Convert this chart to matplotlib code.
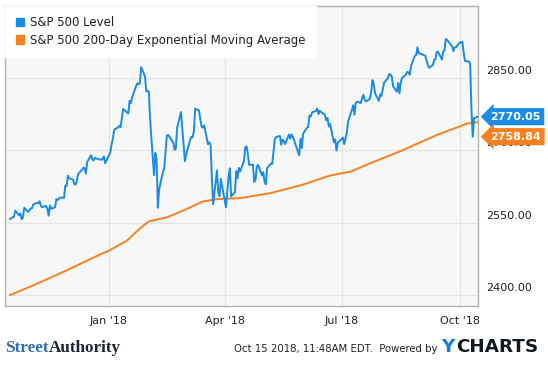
import matplotlib
matplotlib.use("Agg")
import matplotlib.pyplot as plt
from matplotlib.patches import Patch
import pandas as pd

# trading days per month (S&P 500 closes), Oct 2017 - Oct 2018
month_days = [
    ("2017-10", [16, 17, 18, 19, 20, 23, 24, 25, 26, 27, 30, 31]),
    ("2017-11", [1, 2, 3, 6, 7, 8, 9, 10, 13, 14, 15, 16, 17, 20, 21, 22, 24, 27, 28, 29, 30]),
    ("2017-12", [1, 4, 5, 6, 7, 8, 11, 12, 13, 14, 15, 18, 19, 20, 21, 22, 26, 27, 28, 29]),
    ("2018-01", [2, 3, 4, 5, 8, 9, 10, 11, 12, 16, 17, 18, 19, 22, 23, 24, 25, 26, 29, 30, 31]),
    ("2018-02", [1, 2, 5, 6, 7, 8, 9, 12, 13, 14, 15, 16, 20, 21, 22, 23, 26, 27, 28]),
    ("2018-03", [1, 2, 5, 6, 7, 8, 9, 12, 13, 14, 15, 16, 19, 20, 21, 22, 23, 26, 27, 28, 29]),
    ("2018-04", [2, 3, 4, 5, 6, 9, 10, 11, 12, 13, 16, 17, 18, 19, 20, 23, 24, 25, 26, 27, 30]),
    ("2018-05", [1, 2, 3, 4, 7, 8, 9, 10, 11, 14, 15, 16, 17, 18, 21, 22, 23, 24, 25, 29, 30, 31]),
    ("2018-06", [1, 4, 5, 6, 7, 8, 11, 12, 13, 14, 15, 18, 19, 20, 21, 22, 25, 26, 27, 28, 29]),
    ("2018-07", [2, 3, 5, 6, 9, 10, 11, 12, 13, 16, 17, 18, 19, 20, 23, 24, 25, 26, 27, 30, 31]),
    ("2018-08", [1, 2, 3, 6, 7, 8, 9, 10, 13, 14, 15, 16, 17, 20, 21, 22, 23, 24, 27, 28, 29, 30, 31]),
    ("2018-09", [4, 5, 6, 7, 10, 11, 12, 13, 14, 17, 18, 19, 20, 21, 24, 25, 26, 27, 28]),
    ("2018-10", [1, 2, 3, 4, 5, 8, 9, 10, 11, 12, 15]),
]

sp500_level = [
    2557.6, 2559.4, 2561.3, 2562.1, 2575.2, 2565.0, 2569.1, 2557.2, 2560.4, 2581.1, 2572.8, 2575.3,
    2579.4, 2579.9, 2587.8, 2591.1, 2590.6, 2594.4, 2584.6, 2582.3, 2584.8, 2578.9, 2564.6, 2585.6,
    2578.9, 2582.1, 2599.0, 2597.1, 2602.4, 2601.4, 2627.0, 2626.1, 2647.6,
    2642.2, 2639.4, 2629.6, 2629.3, 2637.0, 2651.5, 2660.0, 2664.1, 2662.9, 2652.0, 2675.8, 2690.2,
    2681.5, 2679.2, 2684.6, 2683.3, 2680.5, 2682.6, 2687.5, 2673.6,
    2695.8, 2713.1, 2724.0, 2743.2, 2747.7, 2751.3, 2748.2, 2767.6, 2786.2, 2776.4, 2802.6, 2798.0,
    2810.3, 2833.0, 2839.1, 2837.5, 2839.3, 2872.9, 2853.5, 2822.4, 2823.8,
    2822.0, 2762.1, 2648.9, 2695.1, 2681.7, 2581.0, 2619.6, 2656.0, 2662.9, 2698.6, 2731.2, 2732.2,
    2716.3, 2701.3, 2704.0, 2747.3, 2779.6, 2744.3, 2713.8,
    2677.7, 2691.3, 2720.9, 2728.1, 2726.8, 2739.0, 2786.6, 2783.0, 2765.3, 2749.5, 2747.3, 2752.0,
    2712.9, 2716.9, 2711.9, 2643.7, 2588.3, 2658.6, 2612.6, 2605.0, 2640.9,
    2581.9, 2614.5, 2644.7, 2662.8, 2604.5, 2613.2, 2656.9, 2642.2, 2664.0, 2656.3, 2677.8, 2706.4,
    2708.6, 2693.1, 2670.1, 2670.3, 2634.6, 2639.4, 2666.9, 2669.9, 2648.1,
    2654.8, 2635.7, 2629.7, 2663.4, 2672.6, 2671.9, 2697.8, 2723.1, 2727.7, 2730.1, 2711.5, 2722.5,
    2720.1, 2713.0, 2733.0, 2724.4, 2733.3, 2727.8, 2721.3, 2689.9, 2724.0, 2705.3,
    2734.6, 2746.9, 2748.8, 2772.4, 2770.4, 2779.0, 2782.0, 2786.9, 2775.6, 2782.5, 2779.7, 2773.8,
    2762.6, 2767.3, 2749.8, 2754.9, 2717.1, 2723.1, 2699.6, 2716.3, 2718.4,
    2726.7, 2713.2, 2736.6, 2759.8, 2784.2, 2793.8, 2774.0, 2798.3, 2801.3, 2798.4, 2809.6, 2815.6,
    2804.5, 2801.8, 2807.0, 2820.4, 2846.1, 2837.4, 2818.8, 2802.6, 2816.3,
    2813.4, 2827.2, 2840.4, 2850.4, 2858.5, 2857.7, 2853.6, 2833.3, 2821.9, 2840.0, 2818.4, 2840.7,
    2850.1, 2857.1, 2863.0, 2861.8, 2857.0, 2874.7, 2896.7, 2897.5, 2914.0, 2901.1, 2901.5,
    2896.7, 2888.6, 2878.1, 2871.7, 2877.1, 2887.9, 2888.9, 2904.2, 2905.0, 2888.8, 2904.3, 2908.0,
    2930.8, 2929.7, 2919.4, 2915.6, 2906.0, 2914.0, 2914.0,
    2924.6, 2923.4, 2925.5, 2901.6, 2885.6, 2884.4, 2880.3, 2785.7, 2728.4, 2767.1, 2770.05,
]

# 200-day EMA
ema_dates = ["2017-10-16", "2017-11-03", "2017-11-29", "2017-12-25", "2018-01-01", "2018-01-15",
             "2018-01-25", "2018-02-01", "2018-02-15", "2018-03-02", "2018-03-15", "2018-03-26",
             "2018-04-13", "2018-05-06", "2018-06-01", "2018-06-22", "2018-07-08", "2018-07-23",
             "2018-08-18", "2018-09-13", "2018-10-07", "2018-10-15"]
ema_values = [2400, 2420, 2451, 2484, 2492, 2513,
              2538, 2553, 2561, 2578, 2594, 2599,
              2601, 2611, 2629, 2648, 2656, 2673,
              2701, 2732, 2756, 2758.84]

y_ticks = [2400, 2550, 2700, 2850]
x_ticks = ["2018-01-01", "2018-04-01", "2018-07-01", "2018-10-01"]
x_labels = ["Jan '18", "Apr '18", "Jul '18", "Oct '18"]

BLUE = "#1a8be6"
ORANGE = "#f7811f"

level_dates = [pd.Timestamp(f"{m}-{d:02d}") for m, days in month_days for d in days]
assert len(level_dates) == len(sp500_level)
ema_dt = pd.to_datetime(ema_dates)

fig = plt.figure(figsize=(5.48, 3.67), dpi=100)
ax = fig.add_axes([0.009, 0.166, 0.863, 0.818])
ax.set_facecolor("#f7f7f7")

ax.plot(ema_dt, ema_values, color=ORANGE, lw=1.4, zorder=3)
ax.plot(level_dates, sp500_level, color=BLUE, lw=1.4, zorder=4)

ax.set_xlim(pd.Timestamp("2017-10-12"), pd.Timestamp("2018-10-15"))
ax.set_ylim(2377, 3000)

ax.set_yticks(y_ticks)
ax.set_yticklabels([])
ax.set_xticks(pd.to_datetime(x_ticks))
ax.set_xticklabels(x_labels, fontsize=8, color="#222222")
ax.tick_params(length=0, pad=7)
ax.grid(True, color="#e4e4e4", lw=0.9)
for s in ax.spines.values():
    s.set_color("#b0b0b0")
    s.set_linewidth(1)

# y labels sit just above their grid line, right of the plot
for v in y_ticks:
    ax.annotate(f"{v:.2f}", xy=(1.0, v), xycoords=("axes fraction", "data"),
                xytext=(6, 1.5), textcoords="offset points", fontsize=8,
                color="#222222", va="bottom", ha="left", annotation_clip=False)

# last value tags
ax.annotate("2770.05", xy=(1.0, 2770.05), xycoords=("axes fraction", "data"),
            xytext=(9, 0), textcoords="offset points", fontsize=8, fontweight="bold",
            color="white", va="center", ha="left", annotation_clip=False, zorder=10,
            bbox=dict(boxstyle="larrow,pad=0.32", fc=BLUE, ec="none"))
ax.annotate("2758.84", xy=(1.0, 2758.84), xycoords=("axes fraction", "data"),
            xytext=(9, -10.5), textcoords="offset points", fontsize=8, fontweight="bold",
            color="white", va="center", ha="left", annotation_clip=False, zorder=10,
            bbox=dict(boxstyle="larrow,pad=0.32", fc=ORANGE, ec="none"))

handles = [Patch(color=BLUE, label="S&P 500 Level"),
           Patch(color=ORANGE, label="S&P 500 200-Day Exponential Moving Average")]
leg = ax.legend(handles=handles, loc="upper left", fontsize=8.5, frameon=True,
                fancybox=False, handlelength=0.7, handleheight=0.7, handletextpad=0.5,
                borderaxespad=0, borderpad=0.9, labelspacing=0.35, facecolor="white",
                edgecolor="white", framealpha=1)
for t in leg.get_texts():
    t.set_color("#222222")

# footer
renderer = fig.canvas.get_renderer()
inv = fig.transFigure.inverted()


def after(t, gap=0.0):
    # figure x just right of a text
    bb = t.get_window_extent(renderer)
    return inv.transform((bb.x1, bb.y0))[0] + gap


base = 0.042
t1 = fig.text(0.009, base, "Street", fontsize=12.3, family="Liberation Serif",
              fontweight="bold", color="#2c6eae", va="baseline")
fig.text(after(t1), base, "Authority", fontsize=12.3, family="Liberation Serif",
         fontweight="bold", color="#1c2535", va="baseline")
fig.text(0.799, base, "Oct 15 2018, 11:48AM EDT.  Powered by", fontsize=7.3,
         color="#222222", va="baseline", ha="right")
t2 = fig.text(0.805, base, "Y", fontsize=13.2, fontweight="bold", color="#1a7be0",
              va="baseline")
fig.text(after(t2, 0.003), base, "CHARTS", fontsize=13.2, fontweight="bold",
         color="#101820", va="baseline")

fig.savefig("out.png", dpi=100)
